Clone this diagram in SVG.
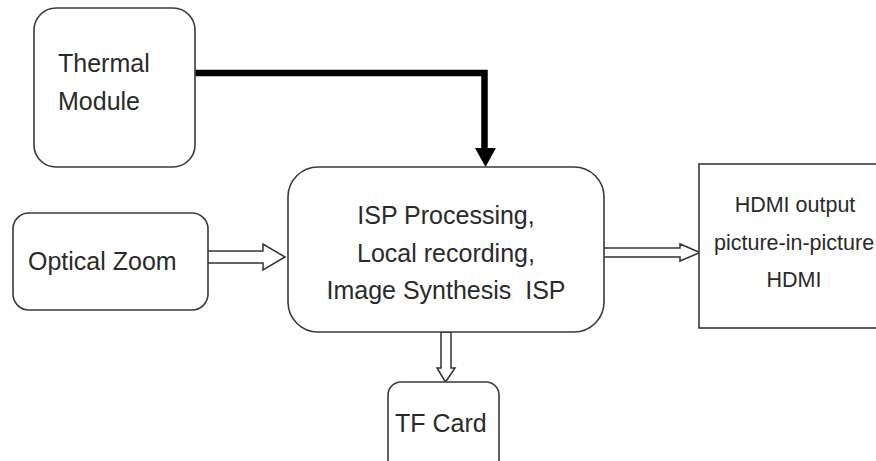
<svg xmlns="http://www.w3.org/2000/svg" width="876" height="461" viewBox="0 0 876 461">
<style>
.box{fill:#ffffff;stroke:#3a3a3a;stroke-width:1.6}
.t{font-family:"Liberation Sans",Arial,sans-serif;fill:#2a2a2a}
.big{font-size:25px}
.sm{font-size:21.5px}
.hollow{fill:#ffffff;stroke:#333333;stroke-width:1.5;stroke-linejoin:miter}
</style>
<rect width="876" height="461" fill="#ffffff"/>
<g id="connectors">
<polyline points="195,73 484.5,73 484.5,150" fill="none" stroke="#000" stroke-width="6.5"/>
<polygon points="475,148 496,148 485.5,167" fill="#000"/>
<polygon class="hollow" points="207,251 263,251 263,244 285,257 263,270 263,263 207,263"/>
<polygon class="hollow" points="603,248 680,248 680,244 700,252.5 680,261 680,257 603,257"/>
<polygon class="hollow" points="441,332 451,332 451,368 455,368 445.5,382 437,368 441,368"/>
</g>
<g id="thermal">
<rect class="box" x="34" y="8" width="161" height="159" rx="22"/>
<text class="t big" x="58" y="72">Thermal</text>
<text class="t big" x="58" y="110">Module</text>
</g>
<g id="optical">
<rect class="box" x="13" y="213" width="195" height="97" rx="16"/>
<text class="t big" x="28" y="270">Optical Zoom</text>
</g>
<g id="isp">
<rect class="box" x="288" y="167" width="316" height="165" rx="30"/>
<text class="t big" x="446" y="224" text-anchor="middle">ISP Processing,</text>
<text class="t big" x="446" y="262" text-anchor="middle">Local recording,</text>
<text class="t big" x="446" y="299" text-anchor="middle" xml:space="preserve">Image Synthesis  ISP</text>
</g>
<g id="hdmi">
<rect class="box" x="699" y="164" width="190" height="164"/>
<text class="t sm" x="795" y="212" text-anchor="middle">HDMI output</text>
<text class="t sm" x="714" y="250">picture-in-picture</text>
<text class="t sm" x="794" y="287" text-anchor="middle">HDMI</text>
</g>
<g id="tfcard">
<rect class="box" x="388" y="382" width="111" height="100" rx="13"/>
<text class="t big" x="395" y="432">TF Card</text>
</g>
</svg>
